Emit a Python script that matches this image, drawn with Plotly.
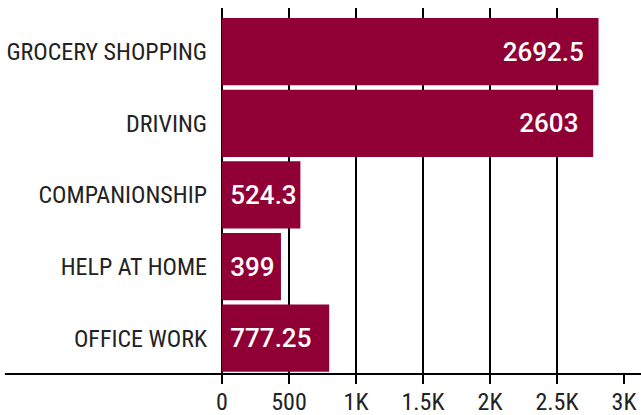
import plotly.graph_objects as go

categories = ["GROCERY SHOPPING", "DRIVING", "COMPANIONSHIP", "HELP AT HOME", "OFFICE WORK"]
bar_values = [2810, 2770, 585, 440, 800]
bar_labels = ["2692.5", "2603", "524.3", "399", "777.25"]
tick_vals = [0, 500, 1000, 1500, 2000, 2500, 3000]
tick_text = ["0", "500", "1K", "1.5K", "2K", "2.5K", "3K"]

BAR_COLOR = "#910034"
COND = "Liberation Sans Narrow, Roboto Condensed, DejaVu Sans Condensed, Arial Narrow, sans-serif"

big = [i for i, v in enumerate(bar_values) if v > 1500]
small = [i for i, v in enumerate(bar_values) if v <= 1500]

fig = go.Figure()
for idx, anchor, tmpl in ((big, "end", "%{text}\u00a0\u2009"), (small, "start", "\u2009%{text}")):
    fig.add_trace(go.Bar(
        orientation="h",
        y=[categories[i] for i in idx],
        x=[bar_values[i] for i in idx],
        text=[bar_labels[i] for i in idx],
        texttemplate=tmpl,
        textposition="inside",
        insidetextanchor=anchor,
        textangle=0,
        textfont=dict(family="Roboto, sans-serif", size=26, color="white", weight=500),
        marker=dict(color=BAR_COLOR, line=dict(width=0)),
        hoverinfo="skip",
        showlegend=False,
    ))

fig.update_layout(
    width=641, height=415,
    margin=dict(l=222, r=17, t=8, b=41, autoexpand=False),
    paper_bgcolor="white", plot_bgcolor="white",
    barmode="overlay", bargap=0.06,
    xaxis=dict(
        range=[0, 3000], tickvals=tick_vals, ticktext=tick_text,
        showgrid=True, gridcolor="black", gridwidth=2,
        zeroline=True, zerolinecolor="black", zerolinewidth=2,
        ticks="outside", ticklen=9, tickwidth=2, tickcolor="black",
        ticklabelstandoff=-3,
        tickfont=dict(family=COND, size=24, color="#222"),
        showline=False, automargin=False,
    ),
    yaxis=dict(
        categoryorder="array", categoryarray=categories,
        range=[4.5, -0.61],
        showgrid=False, zeroline=False, showline=False, ticks="",
        ticklabelstandoff=14, automargin=False,
        tickfont=dict(family=COND, size=24, color="#222"),
    ),
    shapes=[dict(type="line", xref="paper", yref="paper", x0=-0.54, x1=1.05, y0=0, y1=0,
                 line=dict(color="black", width=2), layer="above")],
)

fig.write_html("out.html", config={"displayModeBar": False},
               post_script="document.body.style.margin='0';document.body.style.overflow='hidden';")
